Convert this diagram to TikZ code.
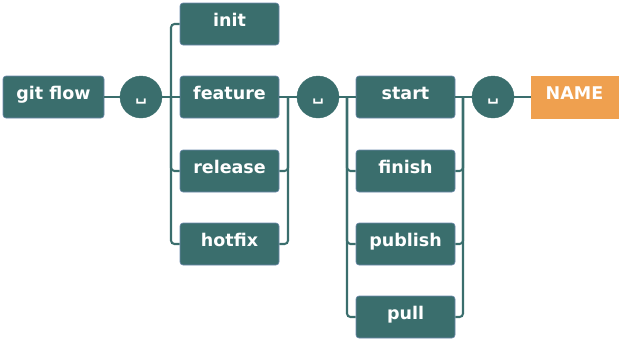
\documentclass[tikz,border=0pt]{standalone}
\usepackage{fontspec}
\setmainfont{DejaVu Sans}
\definecolor{rrteal}{HTML}{3A6E6D}
\definecolor{rrorange}{HTML}{EFA04F}
\begin{document}
\begin{tikzpicture}[x=1pt,y=-1pt,
  box/.style={draw=rrteal!80!blue!70!white, line width=0.6pt, fill=rrteal, rounded corners=3pt, minimum width=99pt, minimum height=42pt, inner sep=0pt,
    text=white, font=\fontsize{17.5}{17.5}\bfseries\selectfont, text height=12pt, text depth=7pt},
  namebox/.style={box, fill=rrorange, draw=rrorange, rounded corners=0pt, minimum width=87pt},
  sep/.style={circle, fill=rrteal, draw=rrteal, minimum size=42pt, inner sep=0pt, text=white,
    font=\fontsize{16}{16}\bfseries\selectfont, text height=8pt, text depth=2pt},
  conn/.style={draw=rrteal, line width=2.1pt, rounded corners=3.5pt}]
\useasboundingbox (0,0) rectangle (620,341);
% main row
\node[box, minimum width=101pt] (gf) at (53.5,97) {git flow};
\node[sep] (c1) at (141,97) {\char"2423};
\node[box] (init) at (229.5,24) {init};
\node[box] (feat) at (229.5,97) {feature};
\node[box] (rel) at (229.5,171) {release};
\node[box] (hot) at (229.5,244) {hotfix};
\node[sep] (c2) at (318,97) {\char"2423};
\node[box] (start) at (405.5,97) {start};
\node[box] (fin) at (405.5,171) {finish};
\node[box] (pub) at (405.5,244) {publish};
\node[box] (pull) at (405.5,317) {pull};
\node[sep] (c3) at (493,97) {\char"2423};
\node[namebox] (name) at (574.5,97) {NAME};
% branch points
\coordinate (b1) at (171,97);
\coordinate (b2) at (288,97);
\coordinate (b3) at (347,97);
\coordinate (b4) at (463,97);
% connectors
\draw[conn] (gf) -- (c1);
\draw[conn] (c1) -- (feat);
\draw[conn] (b1) |- (init.west);
\draw[conn] (b1) |- (rel.west);
\draw[conn] (b1) |- (hot.west);
\draw[conn] (feat) -- (c2);
\draw[conn] (rel.east) -| (b2);
\draw[conn] (hot.east) -| (b2);
\draw[conn] (c2) -- (start);
\draw[conn] (b3) |- (fin.west);
\draw[conn] (b3) |- (pub.west);
\draw[conn] (b3) |- (pull.west);
\draw[conn] (start) -- (c3);
\draw[conn] (fin.east) -| (b4);
\draw[conn] (pub.east) -| (b4);
\draw[conn] (pull.east) -| (b4);
\draw[conn] (c3) -- (name);
\end{tikzpicture}
\end{document}
